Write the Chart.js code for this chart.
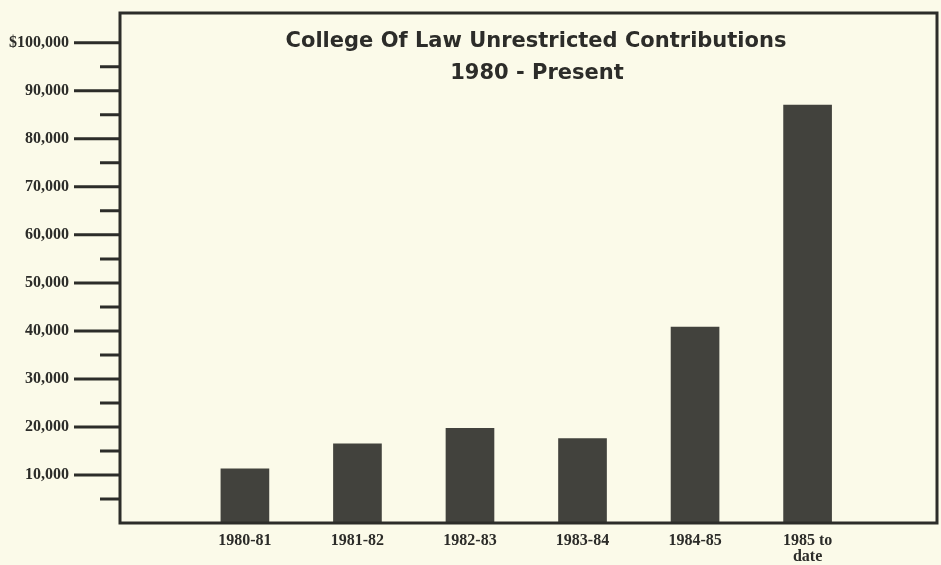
<!DOCTYPE html>
<html>
<head>
<meta charset="utf-8">
<script src="https://cdn.jsdelivr.net/npm/chart.js@4"></script>
<style>
  html, body { margin: 0; padding: 0; background: #fbfae9; }
  #wrap { width: 941px; height: 565px; position: relative; }
</style>
</head>
<body>
<div id="wrap"><canvas id="chart"></canvas></div>
<script>
// Fiscal years on the x axis
const years = ["1980-81", "1981-82", "1982-83", "1983-84", "1984-85", ["1985 to", "date"]];
// Unrestricted contributions, dollars
const contributions = [11300, 16500, 19700, 17600, 40800, 87000];

// Y axis: labelled ticks and the short ticks between them
const yTickValues = [10000, 20000, 30000, 40000, 50000, 60000, 70000, 80000, 90000, 100000];
const yTickLabels = ["10,000", "20,000", "30,000", "40,000", "50,000", "60,000", "70,000", "80,000", "90,000", "$100,000"];
const yMinorTicks = [5000, 15000, 25000, 35000, 45000, 55000, 65000, 75000, 85000, 95000];

const titleLines = ["College Of Law Unrestricted Contributions", "1980 - Present"];

const INK = "#2c2c29";

/* frame, tick marks and title drawn on top of the scales */
const framePlugin = {
  id: "frame",
  afterDraw(chart) {
    const { ctx, chartArea: a } = chart;
    const y = chart.scales.y;
    ctx.save();
    ctx.strokeStyle = INK;
    ctx.lineWidth = 3;
    ctx.strokeRect(a.left, a.top, a.right - a.left, a.bottom - a.top);

    ctx.beginPath();
    yTickValues.forEach((v) => {
      const py = y.getPixelForValue(v);
      ctx.moveTo(a.left - 46, py);
      ctx.lineTo(a.left, py);
    });
    yMinorTicks.forEach((v) => {
      const py = y.getPixelForValue(v);
      ctx.moveTo(a.left - 20, py);
      ctx.lineTo(a.left, py);
    });
    ctx.stroke();

    ctx.fillStyle = INK;
    ctx.font = "bold 21px 'DejaVu Sans', Arial, sans-serif";
    ctx.textAlign = "center";
    ctx.textBaseline = "middle";
    ctx.fillText(titleLines[0], 536, 42);
    ctx.fillText(titleLines[1], 537, 74);
    ctx.restore();
  }
};

const serifBold = { family: "'Liberation Serif', 'Times New Roman', serif", size: 16, weight: "bold" };

new Chart(document.getElementById("chart"), {
  type: "bar",
  data: {
    datasets: [
      {
        data: contributions.map((v, i) => ({ x: i, y: v })),
        backgroundColor: "#42423d",
        borderWidth: 0,
        barThickness: 48
      }
    ]
  },
  options: {
    responsive: true,
    maintainAspectRatio: false,
    animation: false,
    layout: { padding: { top: 13, right: 4, left: 0, bottom: 0 } },
    plugins: {
      legend: { display: false },
      tooltip: { enabled: false }
    },
    scales: {
      x: {
        type: "linear",
        offset: false,
        min: -1.11,
        max: 6.15,
        grid: { display: false, offset: false },
        border: { display: false },
        afterBuildTicks: (scale) => {
          scale.ticks = years.map((_, i) => ({ value: i }));
        },
        afterFit: (scale) => {
          scale.height = 42;
        },
        ticks: {
          color: INK,
          font: { ...serifBold, lineHeight: 1.0 },
          padding: 2,
          maxRotation: 0,
          autoSkip: false,
          callback: (v) => years[v]
        }
      },
      y: {
        min: 0,
        max: 106200,
        grid: { display: false, drawTicks: false },
        border: { display: false },
        afterBuildTicks: (scale) => {
          scale.ticks = yTickValues.map((v) => ({ value: v }));
        },
        afterFit: (scale) => {
          // the label padding would otherwise be added above and below the axis
          scale.width = 120;
          scale.paddingTop = 0;
          scale.paddingBottom = 0;
        },
        ticks: {
          color: INK,
          font: serifBold,
          padding: 51,
          callback: (v) => yTickLabels[yTickValues.indexOf(v)]
        }
      }
    }
  },
  plugins: [framePlugin]
});
</script>
</body>
</html>
